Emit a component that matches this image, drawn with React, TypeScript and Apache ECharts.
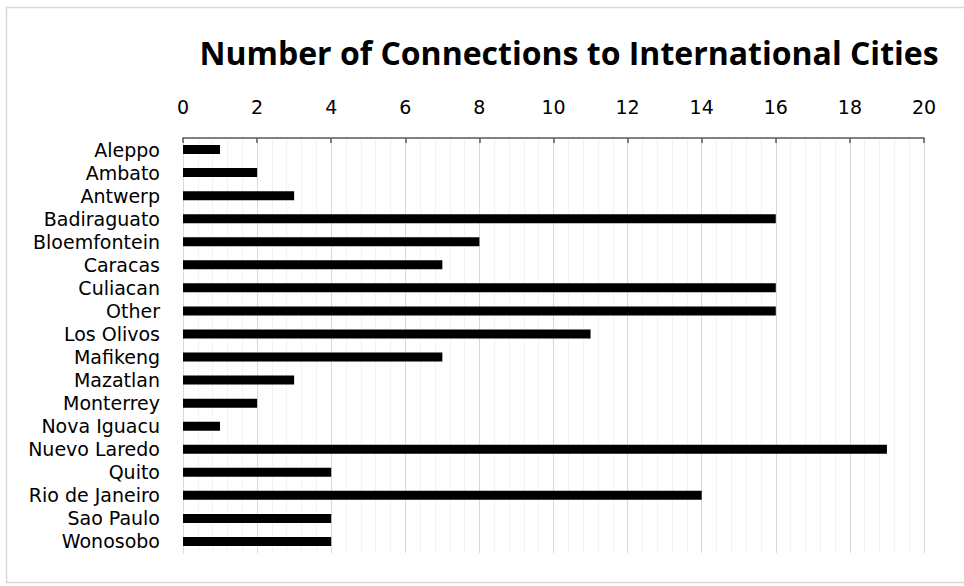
import React, { useEffect, useRef } from "react";
import * as echarts from "echarts";

const cities = [
  "Aleppo",
  "Ambato",
  "Antwerp",
  "Badiraguato",
  "Bloemfontein",
  "Caracas",
  "Culiacan",
  "Other",
  "Los Olivos",
  "Mafikeng",
  "Mazatlan",
  "Monterrey",
  "Nova Iguacu",
  "Nuevo Laredo",
  "Quito",
  "Rio de Janeiro",
  "Sao Paulo",
  "Wonosobo",
];

const connections = [1, 2, 3, 16, 8, 7, 16, 16, 11, 7, 3, 2, 1, 19, 4, 14, 4, 4];

const titleText = "Number of Connections to International Cities";

const TITLE_FONT = "Open Sans";
const LABEL_FONT = "DejaVu Sans";

export default function App() {
  const ref = useRef<HTMLDivElement>(null);

  useEffect(() => {
    if (!ref.current) return;
    const chart = echarts.init(ref.current, null, { renderer: "svg" });
    chart.setOption({
      animation: false,
      backgroundColor: "#ffffff",
      title: {
        text: titleText,
        left: 564,
        top: 31,
        textAlign: "center",
        textStyle: {
          fontFamily: TITLE_FONT,
          fontWeight: "bold",
          fontSize: 32,
          color: "#000000",
        },
      },
      graphic: [
        {
          type: "rect",
          shape: { x: 6.5, y: 7.5, width: 970, height: 575 },
          style: { fill: "none", stroke: "#d9d9d9", lineWidth: 1.5 },
          silent: true,
        },
      ],
      grid: {
        left: 183,
        right: 40,
        top: 138,
        bottom: 33,
        containLabel: false,
      },
      xAxis: {
        type: "value",
        position: "top",
        min: 0,
        max: 20,
        interval: 2,
        axisLine: { show: true, lineStyle: { color: "#595959", width: 1.5 } },
        axisTick: {
          show: true,
          inside: true,
          length: 5,
          lineStyle: { color: "#595959", width: 1.5 },
        },
        minorTick: { show: false, splitNumber: 5 },
        splitLine: { show: true, lineStyle: { color: "#d9d9d9", width: 1 } },
        minorSplitLine: { show: true, lineStyle: { color: "#f2f2f2", width: 1 } },
        axisLabel: {
          fontFamily: LABEL_FONT,
          fontSize: 19,
          color: "#000000",
          margin: 22,
        },
      },
      yAxis: {
        type: "category",
        data: cities,
        inverse: true,
        axisLine: { show: true, lineStyle: { color: "#d9d9d9", width: 1 } },
        axisTick: { show: false },
        axisLabel: {
          interval: 0,
          fontFamily: LABEL_FONT,
          fontSize: 19,
          lineHeight: 21,
          color: "#000000",
          margin: 23,
        },
      },
      series: [
        {
          type: "bar",
          data: connections,
          barWidth: "39%",
          itemStyle: { color: "#000000" },
        },
      ],
    });
    return () => chart.dispose();
  }, []);

  return (
    <div
      ref={ref}
      style={{ position: "fixed", left: 0, top: 0, width: 964, height: 586 }}
    />
  );
}
